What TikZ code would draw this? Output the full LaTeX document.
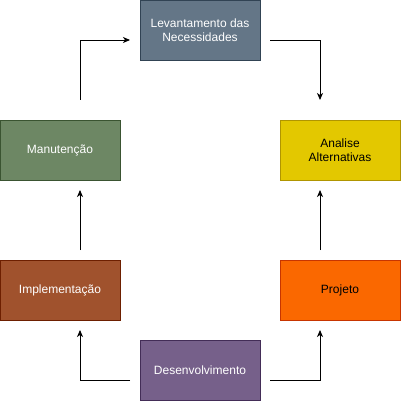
\documentclass[tikz,border=0pt]{standalone}
\usepackage{fontspec}
\setmainfont{Liberation Sans}
\usetikzlibrary{arrows.meta,positioning}
\definecolor{slatef}{HTML}{647687}\definecolor{slated}{HTML}{314354}
\definecolor{yelf}{HTML}{E3C800}\definecolor{yeld}{HTML}{B09500}
\definecolor{oraf}{HTML}{FA6800}\definecolor{orad}{HTML}{C73500}
\definecolor{purf}{HTML}{76608A}\definecolor{purd}{HTML}{432D57}
\definecolor{sief}{HTML}{A0522D}\definecolor{sied}{HTML}{6D1F00}
\definecolor{grnf}{HTML}{6D8764}\definecolor{grnd}{HTML}{3A5431}
\begin{document}
\begin{tikzpicture}[x=1pt,y=-1pt,
  box/.style={draw=#1d,fill=#1f,minimum width=120pt,minimum height=60pt,inner sep=0pt,align=center,font=\fontsize{12}{14}\selectfont,line width=0.8pt},
  conn/.style={-{Stealth[length=7pt,width=6pt,inset=2pt]},line width=0.9pt}]
\useasboundingbox (0,0) rectangle (401,401);
\node[box=slate,text=white] (lev) at (200,30) {Levantamento das\\Necessidades};
\node[box=yel,text=black] (ana) at (340,150) {Analise\\Alternativas};
\node[box=ora,text=black] (pro) at (340,290) {Projeto};
\node[box=pur,text=white] (des) at (200,370) {Desenvolvimento};
\node[box=sie,text=white] (imp) at (60,290) {Implementação};
\node[box=grn,text=white] (man) at (60,150) {Manutenção};
\coordinate (a1) at (270,40); \coordinate (a2) at (320,100);
\draw[conn] (a1) -| (a2);
\coordinate (b1) at (320,250); \coordinate (b2) at (320,190);
\draw[conn] (b1) -- (b2);
\coordinate (c1) at (270,380); \coordinate (c2) at (320,330);
\draw[conn] (c1) -| (c2);
\coordinate (d1) at (130,380); \coordinate (d2) at (80,330);
\draw[conn] (d1) -| (d2);
\coordinate (e1) at (80,250); \coordinate (e2) at (80,190);
\draw[conn] (e1) -- (e2);
\coordinate (f1) at (80,100); \coordinate (f2) at (130,40);
\draw[conn] (f1) |- (f2);
\end{tikzpicture}
\end{document}
